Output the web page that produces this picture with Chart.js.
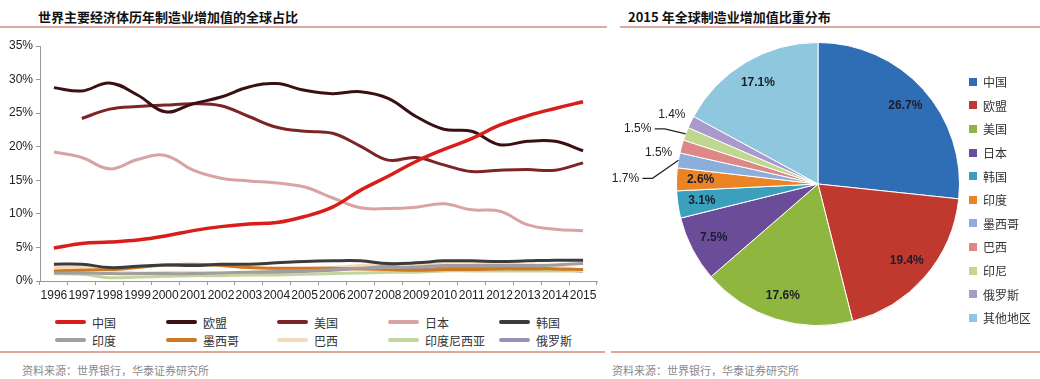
<!DOCTYPE html>
<html>
<head>
<meta charset="utf-8">
<script src="https://cdn.jsdelivr.net/npm/chart.js@4"></script>
<style>
  body { margin: 0; background: #fff; width: 1040px; height: 379px; position: relative; overflow: hidden;
         font-family: "Noto Sans CJK SC", Arial, sans-serif; }
  .title { position: absolute; top: 7px; font-size: 13px; font-weight: bold; color: #111; white-space: nowrap; }
  .rule { position: absolute; height: 2px; background: #dcaaa0; }
  .src { position: absolute; top: 362px; font-size: 11px; color: #8a8a8a; white-space: nowrap; }
  #lineLegend { position: absolute; left: 55px; top: 313px; display: grid; grid-template-columns: repeat(5, 111px);
                row-gap: 0; font-size: 12px; color: #333; }
  #lineLegend div { height: 18px; display: flex; align-items: center; white-space: nowrap; }
  #lineLegend span.ln { display: inline-block; width: 31px; height: 4px; border-radius: 2px; margin-right: 6px; }
  #pieLegend { position: absolute; left: 969px; top: 70px; font-size: 12px; color: #333; }
  #pieLegend div { height: 23.6px; display: flex; align-items: center; white-space: nowrap; }
  #pieLegend span.sq { display: inline-block; width: 8px; height: 8px; margin-right: 6px; }
  canvas { position: absolute; }
</style>
</head>
<body>
<div class="title" style="left:38px">世界主要经济体历年制造业增加值的全球占比</div>
<div class="title" style="left:628px">2015 年全球制造业增加值比重分布</div>
<div class="rule" style="left:0;width:607px;top:26px"></div>
<div class="rule" style="left:620px;width:420px;top:26px"></div>
<div class="rule" style="left:0;width:605px;top:351px;background:#e3a595"></div>
<div class="rule" style="left:611px;width:429px;top:351px;background:#e3a595"></div>
<div class="src" style="left:22px">资料来源：世界银行，华泰证券研究所</div>
<div class="src" style="left:612px">资料来源：世界银行，华泰证券研究所</div>

<canvas id="lineChart" style="left:0;top:30px"></canvas>
<div id="lineLegend"></div>
<canvas id="pieChart" style="left:600px;top:30px"></canvas>
<div id="pieLegend"></div>

<script>
// ---- data: left chart (share of global manufacturing value added, %) ----
const years = ["1996","1997","1998","1999","2000","2001","2002","2003","2004","2005",
               "2006","2007","2008","2009","2010","2011","2012","2013","2014","2015"];
const china     = [4.9,5.6,5.8,6.1,6.7,7.5,8.1,8.5,8.7,9.6,11.0,13.5,15.6,17.8,19.6,21.2,23.2,24.6,25.7,26.7];
const eu        = [28.8,28.3,29.5,27.7,25.2,26.4,27.4,28.9,29.4,28.4,27.9,28.2,27.2,24.5,22.6,22.3,20.3,20.8,20.8,19.4];
const usa       = [null,24.2,25.6,26.0,26.2,26.4,26.1,24.5,22.9,22.3,22.0,20.1,18.0,18.4,17.3,16.3,16.5,16.6,16.5,17.6];
const japan     = [19.2,18.4,16.7,18.1,18.7,16.5,15.3,14.9,14.6,14.0,12.4,10.9,10.8,11.0,11.5,10.6,10.4,8.4,7.7,7.5];
const korea     = [2.5,2.5,2.0,2.2,2.4,2.3,2.5,2.5,2.7,2.9,3.0,3.0,2.6,2.7,3.0,3.0,2.9,3.0,3.1,3.1];
const india     = [1.2,1.2,1.1,1.1,1.1,1.1,1.2,1.3,1.4,1.5,1.7,1.9,2.0,2.1,2.3,2.3,2.3,2.3,2.4,2.6];
const mexico    = [1.5,1.6,1.7,2.0,2.4,2.5,2.3,2.0,1.9,1.9,1.9,1.8,1.7,1.6,1.7,1.7,1.8,1.8,1.8,1.7];
const brazil    = [2.0,2.0,1.6,1.2,1.3,1.3,1.2,1.3,1.6,1.9,2.0,2.3,2.6,2.5,2.8,2.8,2.5,2.4,2.2,1.5];
const indonesia = [1.1,1.0,0.5,0.6,0.7,0.8,0.8,0.9,0.9,1.0,1.1,1.2,1.3,1.3,1.5,1.5,1.5,1.5,1.5,1.5];
const russia    = [null,null,null,null,null,null,1.0,1.0,1.1,1.4,1.6,1.9,2.2,1.8,1.9,2.0,2.1,2.1,1.8,1.4];
const yTicks    = [0,5,10,15,20,25,30,35];

// ---- data: right chart (2015 share, %) ----
const pieLabels = ["中国","欧盟","美国","日本","韩国","印度","墨西哥","巴西","印尼","俄罗斯","其他地区"];
const pieValues = [26.7,19.4,17.6,7.5,3.1,2.6,1.7,1.5,1.5,1.4,17.1];

const lineSeries = [
  { label: "中国", data: china, color: "#d81e1a" },
  { label: "欧盟", data: eu, color: "#3a1012" },
  { label: "美国", data: usa, color: "#7c2527" },
  { label: "日本", data: japan, color: "#d9a3a3" },
  { label: "韩国", data: korea, color: "#3b3b3b" },
  { label: "印度", data: india, color: "#a39d9e" },
  { label: "墨西哥", data: mexico, color: "#cc7a22" },
  { label: "巴西", data: brazil, color: "#f6d9bc" },
  { label: "印度尼西亚", data: indonesia, color: "#c2d59c" },
  { label: "俄罗斯", data: russia, color: "#9d90b8" }
];

const pieColors = ["#2f6db4","#c0392f","#8fb73f","#6a4c99","#3aa0bd","#ea8425",
                   "#8caedb","#dc8886","#c0d78f","#aa9acb","#8ec7de"];

const lineCanvas = document.getElementById("lineChart");
lineCanvas.width = 610; lineCanvas.height = 280;
lineCanvas.style.width = "610px"; lineCanvas.style.height = "280px";

new Chart(lineCanvas, {
  type: "line",
  data: {
    labels: years,
    datasets: lineSeries.map((s) => ({
      label: s.label,
      data: s.data,
      borderColor: s.color,
      backgroundColor: s.color,
      borderWidth: s.label === "中国" ? 3.5 : 3,
      pointRadius: 0,
      tension: 0.4,
      fill: false
    }))
  },
  options: {
    responsive: false,
    animation: false,
    layout: { padding: { top: 16, right: 13, left: 0, bottom: 0 } },
    plugins: { legend: { display: false }, tooltip: { enabled: false } },
    scales: {
      x: {
        offset: true,
        grid: { display: true, drawOnChartArea: false, drawTicks: true, tickLength: 4, color: "#999", offset: true },
        border: { color: "#999", width: 1 },
        ticks: { autoSkip: false, maxRotation: 0, minRotation: 0, color: "#222", padding: 3,
                 font: { family: "Arial", size: 12 } },
        afterFit: (scale) => { scale.height = 29; }
      },
      y: {
        min: 0, max: 35,
        afterBuildTicks: (scale) => { scale.ticks = yTicks.map((v) => ({ value: v })); },
        grid: { display: true, drawOnChartArea: false, drawTicks: true, tickLength: 4, color: "#999" },
        border: { color: "#999", width: 1 },
        ticks: { color: "#222", padding: 3, font: { family: "Arial", size: 12 },
                 callback: (v) => v + "%" },
        afterFit: (scale) => { scale.width = 40; }
      }
    }
  }
});

// legend for line chart
const lineLegend = document.getElementById("lineLegend");
lineSeries.forEach((s) => {
  const d = document.createElement("div");
  d.innerHTML = '<span class="ln" style="background:' + s.color + '"></span>' + s.label;
  lineLegend.appendChild(d);
});

// pie labels: inside ones at 0.83r, small ones outside with offsets
const outsideLabels = { 6: [-53, 18, true], 7: [-23, 6, false], 8: [-48, -5, true], 9: [-19, -7, false] };

const pieLabelPlugin = {
  id: "pieLabels",
  afterDatasetsDraw(chart) {
    const ctx = chart.ctx;
    const meta = chart.getDatasetMeta(0);
    ctx.save();
    ctx.font = "bold 12px Arial";
    ctx.textAlign = "center";
    ctx.textBaseline = "middle";
    meta.data.forEach((arc, i) => {
      const p = arc.getProps(["x","y","startAngle","endAngle","outerRadius"], true);
      const mid = (p.startAngle + p.endAngle) / 2;
      const txt = pieValues[i].toFixed(1) + "%";
      const o = outsideLabels[i];
      if (!o) {
        const r = p.outerRadius * 0.83;
        ctx.fillStyle = "#1c1c2c";
        ctx.fillText(txt, p.x + Math.cos(mid) * r, p.y + Math.sin(mid) * r);
      } else {
        const ax = p.x + Math.cos(mid) * p.outerRadius;
        const ay = p.y + Math.sin(mid) * p.outerRadius;
        const lx = ax + o[0], ly = ay + o[1];
        if (o[2]) {
          ctx.strokeStyle = "#222";
          ctx.lineWidth = 1.2;
          ctx.beginPath();
          ctx.moveTo(ax, ay);
          ctx.lineTo(lx + 27, ly);
          ctx.lineTo(lx + 17, ly);
          ctx.stroke();
        }
        ctx.fillStyle = "#222";
        ctx.font = "12px Arial";
        ctx.fillText(txt, lx, ly);
        ctx.font = "bold 12px Arial";
      }
    });
    ctx.restore();
  }
};

const pieCanvas = document.getElementById("pieChart");
pieCanvas.width = 436; pieCanvas.height = 310;
pieCanvas.style.width = "436px"; pieCanvas.style.height = "310px";

new Chart(pieCanvas, {
  type: "pie",
  data: {
    labels: pieLabels,
    datasets: [{ data: pieValues, backgroundColor: pieColors, borderColor: "#ffffff", borderWidth: 1 }]
  },
  options: {
    responsive: false,
    animation: false,
    layout: { padding: { left: 76, right: 76, top: 12, bottom: 14 } },
    plugins: { legend: { display: false }, tooltip: { enabled: false } }
  },
  plugins: [pieLabelPlugin]
});

// legend for pie chart
const pieLegend = document.getElementById("pieLegend");
pieLabels.forEach((l, i) => {
  const d = document.createElement("div");
  d.innerHTML = '<span class="sq" style="background:' + pieColors[i] + '"></span>' + l;
  pieLegend.appendChild(d);
});
</script>
</body>
</html>
